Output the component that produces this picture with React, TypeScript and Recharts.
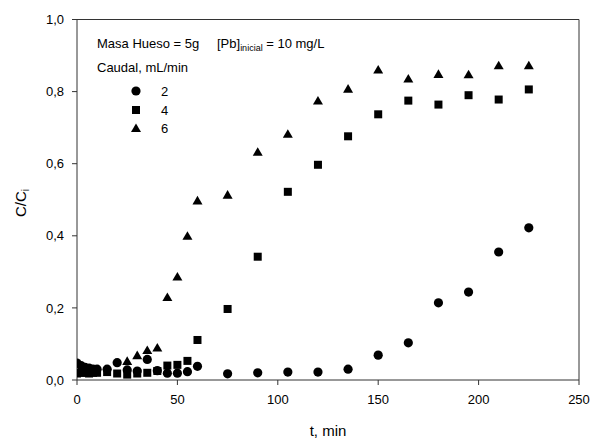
import React from "react";
import { ScatterChart, Scatter, XAxis, YAxis, ReferenceLine } from "recharts";

const caudal2T = [0, 2, 4, 6, 8, 10, 15, 20, 25, 30, 35, 40, 45, 50, 55, 60, 75, 90, 105, 120, 135, 150, 165, 180, 195, 210, 225];
const caudal2V = [0.047, 0.04, 0.035, 0.033, 0.03, 0.03, 0.03, 0.048, 0.028, 0.025, 0.057, 0.026, 0.019, 0.019, 0.023, 0.038, 0.017, 0.02, 0.022, 0.022, 0.03, 0.069, 0.103, 0.214, 0.244, 0.355, 0.422];

const caudal4T = [0, 2, 4, 6, 8, 10, 15, 20, 25, 30, 35, 40, 45, 50, 55, 60, 75, 90, 105, 120, 135, 150, 165, 180, 195, 210, 225];
const caudal4V = [0.018, 0.02, 0.02, 0.018, 0.02, 0.02, 0.022, 0.018, 0.015, 0.018, 0.02, 0.025, 0.04, 0.042, 0.053, 0.111, 0.197, 0.342, 0.522, 0.597, 0.676, 0.737, 0.775, 0.764, 0.79, 0.778, 0.806];

const caudal6T = [25, 30, 35, 40, 45, 50, 55, 60, 75, 90, 105, 120, 135, 150, 165, 180, 195, 210, 225];
const caudal6V = [0.053, 0.069, 0.083, 0.09, 0.23, 0.287, 0.4, 0.498, 0.514, 0.633, 0.683, 0.775, 0.808, 0.861, 0.836, 0.849, 0.848, 0.873, 0.873];

const xTicks = [0, 50, 100, 150, 200, 250];
const yTicks = [0, 0.2, 0.4, 0.6, 0.8, 1.0];

const toPts = (t: number[], v: number[]) => t.map((x, i) => ({ x, y: v[i] }));
const d2 = toPts(caudal2T, caudal2V);
const d4 = toPts(caudal4T, caudal4V);
const d6 = toPts(caudal6T, caudal6V);

const FONT = "'Liberation Sans', Arial, sans-serif";
const AX = "#333";

const CircleShape = (p: any) => <circle cx={p.cx} cy={p.cy} r={4.6} fill="#000" />;
const SquareShape = (p: any) => <rect x={p.cx - 4} y={p.cy - 4} width={8} height={8} fill="#000" />;
const TriShape = (p: any) => (
  <polygon points={`${p.cx},${p.cy - 4.6} ${p.cx - 5},${p.cy + 4} ${p.cx + 5},${p.cy + 4}`} fill="#000" />
);

export default function App() {
  return (
    <div style={{ position: "absolute", left: 0, top: 0, width: 592, height: 438, background: "#fff" }}>
      <ScatterChart width={592} height={438} margin={{ top: 19.5, right: 13, bottom: 28, left: 17 }}>
        <XAxis
          type="number"
          dataKey="x"
          domain={[0, 250]}
          ticks={xTicks}
          allowDataOverflow
          stroke={AX}
          tickSize={5}
          tickMargin={10}
          height={30}
          tick={{ fill: "#000", fontSize: 13, fontFamily: FONT }}
          tickLine={{ stroke: AX }}
        />
        <YAxis
          type="number"
          dataKey="y"
          domain={[0, 1]}
          ticks={yTicks}
          allowDataOverflow
          stroke={AX}
          tickSize={5}
          tickMargin={8}
          width={60}
          tickFormatter={(v: number) => v.toFixed(1).replace(".", ",")}
          tick={{ fill: "#000", fontSize: 13, fontFamily: FONT }}
          tickLine={{ stroke: AX }}
        />
        <ReferenceLine y={1} stroke={AX} />
        <ReferenceLine x={250} stroke={AX} />
        <Scatter data={d2} shape={CircleShape} isAnimationActive={false} />
        <Scatter data={d4} shape={SquareShape} isAnimationActive={false} />
        <Scatter data={d6} shape={TriShape} isAnimationActive={false} />
        <g fontFamily={FONT} fill="#000">
          <text x={97} y={48} fontSize={13} fill="#000">
            Masa Hueso = 5g
          </text>
          <text x={217} y={48} fontSize={13} fill="#000">
            [Pb]
            <tspan fontSize={9} dy={3} fill="#000">inicial</tspan>
            <tspan dy={-3} fill="#000"> = 10 mg/L</tspan>
          </text>
          <text x={97} y={72} fontSize={13} fill="#000">Caudal, mL/min</text>
          <circle cx={136} cy={91} r={4.6} fill="#000" />
          <text x={161} y={96} fontSize={13} fill="#000">2</text>
          <rect x={132} y={106} width={8} height={8} fill="#000" />
          <text x={161} y={115} fontSize={13} fill="#000">4</text>
          <polygon points="136,123.4 131,132 141,132" fill="#000" />
          <text x={161} y={133} fontSize={13} fill="#000">6</text>
          <text x={328} y={436} fontSize={15} textAnchor="middle" fill="#000">t, min</text>
          <text x={26} y={203} fontSize={15} textAnchor="middle" transform="rotate(-90,26,203)" fill="#000">
            C/C<tspan fontSize={10} dy={3} fill="#000">i</tspan>
          </text>
        </g>
      </ScatterChart>
    </div>
  );
}
